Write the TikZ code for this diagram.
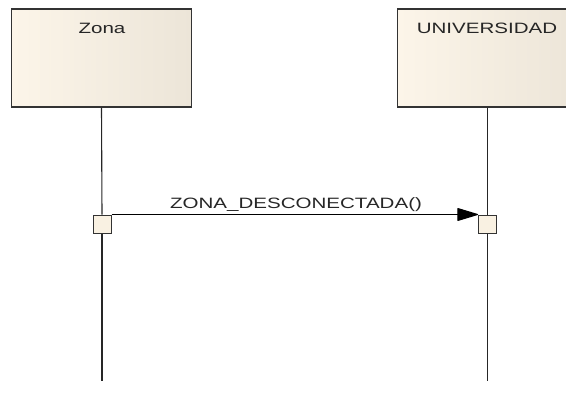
\documentclass[tikz,border=0pt]{standalone}
\usepackage{fontspec}
\setmainfont{Liberation Sans}
\usetikzlibrary{arrows.meta}
\definecolor{boxl}{RGB}{252,245,233}
\definecolor{boxr}{RGB}{236,229,216}
\definecolor{actf}{RGB}{249,241,226}
\begin{document}
\begin{tikzpicture}[x=1pt,y=-1pt,
  lifebox/.style={draw=black!80,line width=1.2pt,left color=boxl,right color=boxr,minimum width=180pt,minimum height=98pt,inner sep=0pt},
  actbox/.style={draw=black!80,line width=1pt,fill=actf,minimum width=18pt,minimum height=18pt,inner sep=0pt},
  lbl/.style={font=\fontsize{15}{15}\selectfont,text=black!85,xscale=1.37,inner sep=0pt,anchor=base},
  lifeline/.style={draw=black!85,line width=1.1pt},
  msg/.style={draw=black,line width=1.1pt,-{Triangle[length=22pt,width=13pt,round]}}]
\useasboundingbox (0,0) rectangle (566,394);
\clip (0,0) rectangle (566,394);
\node[lifebox] (zbox) at (101.5,58) {};
\node[lifebox] (ubox) at (487.5,58) {};
\node[lbl] (zlab) at (102,33) {Zona};
\node[lbl] (ulab) at (487,33) {UNIVERSIDAD};
\coordinate (zend) at (102,381);
\coordinate (uend) at (487.5,381);
\node[actbox] (za) at (102,224) {};
\node[actbox] (ua) at (487.5,224) {};
\draw[lifeline] (zbox.south) -- (za.north);
\draw[lifeline] (za.south) -- (zend);
\draw[lifeline] (ubox.south) -- (ua.north);
\draw[lifeline] (ua.south) -- (uend);
\draw[msg] (za.north east) -- (ua.north west);
\node[lbl] (mlab) at (296,208) {ZONA\_DESCONECTADA()};
\end{tikzpicture}
\end{document}
